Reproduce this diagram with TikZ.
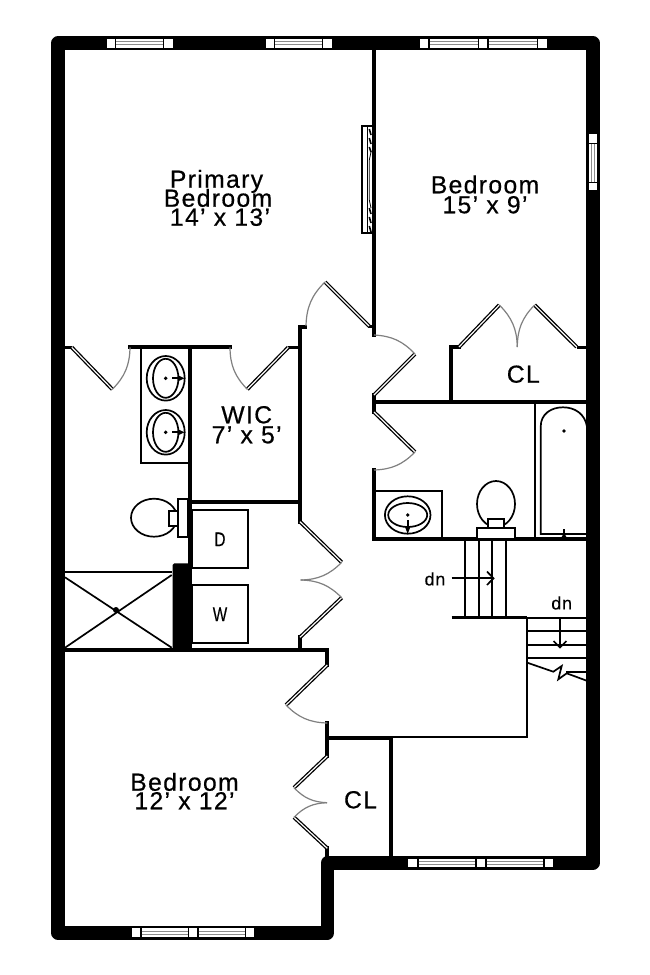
\documentclass[tikz,border=0pt]{standalone}
\usepackage{fontspec}
\usetikzlibrary{arrows.meta}
\setmainfont[LetterSpace=5.5,FakeBold=0.5]{Liberation Sans}
\newfontfamily\dnfont[LetterSpace=4,FakeBold=0.25]{Liberation Sans}
\newcommand{\roomfont}{\fontsize{24.7}{24.7}\selectfont}
\newcommand{\smallfont}{\dnfont\fontsize{18}{18}\selectfont}
\tikzset{
  outerwall/.style={line width=13.4pt,line join=round,line cap=round},
  wall/.style={line width=4pt,line join=miter,line cap=rect},
  stubwall/.style={line width=3pt},
  fixture/.style={line width=1.7pt},
  thinwall/.style={line width=2.2pt},
  leaf/.style={line width=1.3pt,double=white,double distance=1.2pt},
  swing/.style={line width=1.2pt,draw=black!50},
  roomlabel/.style={anchor=base,inner sep=0pt,font=\roomfont},
  smalllabel/.style={anchor=center,inner sep=0pt,font=\smallfont},
  pane/.style={fill=white,draw=none},
  glassline/.style={draw=black!45,line width=0.9pt}
}
\newcommand{\sq}[4]{\fill[pane] (#1,#3) rectangle (#2,#4);}
\newcommand{\hglass}[3]{\fill[pane] (#1,#3-4.2) rectangle (#2,#3+4.2);
  \draw[glassline] (#1,#3-1.5) -- (#2,#3-1.5);
  \draw[glassline] (#1,#3+1.5) -- (#2,#3+1.5);}
\newcommand{\vglass}[3]{\fill[pane] (#3-4.2,#1) rectangle (#3+4.2,#2);
  \draw[glassline] (#3-1.5,#1) -- (#3-1.5,#2);
  \draw[glassline] (#3+1.5,#1) -- (#3+1.5,#2);}
\begin{document}
\begin{tikzpicture}[x=1pt,y=-1pt]
\useasboundingbox (0,0) rectangle (650,975);
\fill[white] (0,0) rectangle (650,975);
% outer wall
\draw[outerwall] (58,43) -- (593,43) -- (593,863) -- (327.3,863) -- (327.3,933) -- (58,933) -- cycle;
% windows
\sq{106.7}{114.5}{39.2}{47.5}\hglass{116}{162.7}{43.3}\sq{164}{172.5}{39.2}{47.5}
\sq{265.7}{273.5}{39.2}{47.5}\hglass{275}{322}{43.3}\sq{323}{331.5}{39.2}{47.5}
\sq{420}{428}{39.2}{47.5}\hglass{430}{478}{43.3}\sq{479}{487}{39.2}{47.5}\hglass{489}{537}{43.3}\sq{538}{547}{39.2}{47.5}
\sq{589}{597}{134}{142.5}\vglass{144}{182}{593}\sq{589}{597}{182.7}{190}
\sq{408}{417}{859}{867}\hglass{418.5}{475}{863}\sq{476.7}{485}{859}{867}\hglass{486.7}{543}{863}\sq{544.7}{553}{859}{867}
\sq{131.7}{139.7}{928.3}{936.7}\hglass{141.5}{187.5}{932.5}\sq{188.7}{196.7}{928.3}{936.7}\hglass{198.5}{244.5}{932.5}\sq{246}{254}{928.3}{936.7}
% interior walls
\draw[wall] (374,50) -- (374,335);
\draw[wall] (374,395) -- (374,412);
\draw[wall] (374,470) -- (374,539) -- (587,539);
\draw[wall] (374,401.7) -- (587,401.7);
\draw[wall] (451.3,401) -- (451.3,347) -- (459,347);
\draw[stubwall] (577,347) -- (587,347);
\draw[stubwall] (65,347.3) -- (71.7,347.3);
\draw[wall] (130,347.3) -- (230,347.3);
\draw[stubwall] (288,347.3) -- (300,347.3);
\draw[wall] (305,326.7) -- (300,326.7) -- (300,521.7);
\draw[wall] (190,347) -- (190,650);
\draw[wall] (190,501.7) -- (300,501.7);
\draw[wall] (300,637) -- (300,650);
\draw[wall] (65,650) -- (327.3,650) -- (327.3,665);
\draw[wall] (327.3,723) -- (327.3,756);
\draw[wall] (327.3,737.5) -- (391.3,737.5) -- (391.3,857);
\draw[wall] (327.3,848) -- (327.3,857);
\draw[stubwall] (368,326.5) -- (373,326.5);
\fill[black,rounded corners=1.5pt] (172.7,650) -- (172.7,563.3) -- (191.7,563.3) -- (191.7,650) -- cycle;
% stair walls
\draw[thinwall] (391,737.3) -- (527.3,737.3) -- (527.3,618);
\draw[thinwall] (451.7,617.5) -- (527.3,617.5);
% door leaves
\draw[leaf] (71.7,347.3) -- (112.3,389.3);
\draw[leaf] (288.3,347.3) -- (247.3,389.3);
\draw[leaf] (325,282) -- (369,326);
\draw[leaf] (374,395) -- (415,354);
\draw[leaf] (374,412) -- (415,452);
\draw[leaf] (459,347) -- (499.3,305);
\draw[leaf] (576.7,347) -- (534.6,305);
\draw[leaf] (300,521.7) -- (341.7,562.3);
\draw[leaf] (300,637.3) -- (341.7,597.7);
\draw[leaf] (327.3,665) -- (286,705);
\draw[leaf] (327.3,756) -- (294,787.7);
\draw[leaf] (327.3,848.3) -- (294,817.3);
% door swings
\draw[swing] (112.3,389.3) to[bend right=22] (130,347.3);
\draw[swing] (230,347.3) to[bend right=22] (247.3,389.3);
\draw[swing] (325,282) to[bend right=22] (306,326);
\draw[swing] (415,354) to[bend right=22] (374,335);
\draw[swing] (374,470) to[bend right=22] (415,452);
\draw[swing] (517.3,347) to[bend right=22] (499.3,305);
\draw[swing] (534.6,305) to[bend right=22] (517.3,347);
\draw[swing] (300.7,580) to[bend right=22] (341.7,562.3);
\draw[swing] (341.7,597.7) to[bend right=22] (300.7,580);
\draw[swing] (286,705) to[bend right=22] (327.3,723);
\draw[swing] (294,787.7) to[bend right=22] (327,802.7);
\draw[swing] (327,802.7) to[bend right=22] (294,817.3);
% wardrobe unit on the party wall
\draw[fixture] (372.3,126) -- (362.3,126) -- (362.3,233) -- (372.3,233);
\draw[line width=1.2pt] (367.3,126) -- (367.3,233);
\foreach \ya/\yb in {129/135,138/144,147/152,208/214,217/223,226/232}
  \draw[line width=1.6pt] (369.3,\ya) -- (371,\yb);
\draw[line width=0.8pt] (371,152) -- (369.3,160) -- (369.3,200) -- (371,208);
% vanity
\draw[fixture] (190,347) -- (141,347) -- (141,463) -- (190,463);
\draw[fixture] (165.7,378.3) ellipse [x radius=19,y radius=22.3];
\draw[fixture] (165.7,378.3) ellipse [x radius=12.7,y radius=19.5];
\fill (165.7,378.3) circle (1.9);
\draw[fixture] (172,378.3) -- (180,378.3);
\fill (178,375.3) -- (184.5,378.3) -- (178,381.3) -- cycle;
\draw[fixture] (165.7,432.3) ellipse [x radius=19,y radius=22.3];
\draw[fixture] (165.7,432.3) ellipse [x radius=12.7,y radius=19.5];
\fill (165.7,432.3) circle (1.9);
\draw[fixture] (172,432.3) -- (180,432.3);
\fill (178,429.3) -- (184.5,432.3) -- (178,435.3) -- cycle;
% left toilet
\draw[fixture] (154,517.7) ellipse [x radius=23,y radius=19];
\draw[fixture,fill=white] (169.3,511) rectangle (177.7,525.7);
\draw[fixture,fill=white] (177.7,499.3) rectangle (188,536.7);
% shower
\draw[fixture] (65,572.3) -- (172,572.3);
\draw[fixture] (65,577.3) -- (171.7,647.7);
\draw[fixture] (171.7,575) -- (65,647.7);
\fill (116,610) circle (3);
% washer dryer
\draw[fixture] (192,510) rectangle (248.3,568.3);
\draw[fixture] (192,585) rectangle (248.3,643.3);
% bath
\draw[thinwall] (534.7,402) -- (534.7,539);
\draw[fixture] (587,534) -- (540.7,534) -- (540.7,426.7) .. controls (540.7,414) and (551,407.3) .. (563,407.3) .. controls (575,407.3) and (585,414) .. (587,426.7);
\fill (564,431) circle (1.9);
\draw[fixture] (564,529) -- (564,538);
\fill (561,538) -- (564,533) -- (567,538) -- cycle;
\draw[fixture] (374,491) -- (441.7,491) -- (441.7,539);
\draw[fixture] (407.7,515) ellipse [x radius=22.8,y radius=18.7];
\draw[fixture] (407.7,515) ellipse [x radius=19.5,y radius=12];
\fill (407.7,515) circle (1.9);
\draw[fixture] (407.7,520) -- (407.7,528);
\fill (404.7,526) -- (410.7,526) -- (407.7,534) -- cycle;
\draw[fixture] (496,504) ellipse [x radius=19,y radius=23];
\draw[fixture,fill=white] (488,519) rectangle (504,527.7);
\draw[fixture,fill=white] (477.3,527.7) rectangle (515,539);
% stairs
\foreach \x in {465,479,492.3,506} \draw[fixture] (\x,540) -- (\x,617);
\draw[fixture] (451.7,578.3) -- (493.3,578.3);
\draw[fixture] (487,571.5) -- (493.5,578.3) -- (487,585);
\draw[fixture] (527.3,618.3) -- (587,618.3);
\draw[fixture] (527.3,630.7) -- (587,630.7);
\draw[fixture] (527.3,645) -- (587,645);
\draw[fixture] (527.3,658.3) -- (587,658.3);
\draw[fixture] (566,672) -- (587,672);
\draw[fixture] (560,618) -- (560,647);
\draw[fixture] (553.5,641) -- (560,647.5) -- (566.5,641);
\draw[fixture] (527.3,662.7) -- (553.3,671.7) -- (561.7,666) -- (558.3,679.3) -- (566.7,673.3) -- (586.7,680.7);
% labels
\node[roomlabel] (primary) at (216.5,187.7) {Primary};
\node[roomlabel] (primarybed) at (218,206.7) {Bedroom};
\node[roomlabel] (primarysize) at (220,225.7) {14’ x 13’};
\node[roomlabel] (bedone) at (485,193.3) {Bedroom};
\node[roomlabel] (bedonesize) at (485,213.3) {15’ x 9’};
\node[roomlabel] (bedtwo) at (184.5,790.7) {Bedroom};
\node[roomlabel] (bedtwosize) at (184.5,809.3) {12’ x 12’};
\node[roomlabel] (wic) at (246.7,423.3) {WIC};
\node[roomlabel] (wicsize) at (246.7,443.3) {7’ x 5’};
\node[roomlabel] (clone) at (523.3,382.7) {CL};
\node[roomlabel] (cltwo) at (360.5,808.3) {CL};
\node[smalllabel] (dryer) at (220,539.3) {\scalebox{.85}[1.1]{D}};
\node[smalllabel] (washer) at (220,614.3) {\scalebox{.85}[1.1]{W}};
\node[smalllabel] (dnone) at (435,579) {dn};
\node[smalllabel] (dntwo) at (561.7,603) {dn};
\end{tikzpicture}
\end{document}
